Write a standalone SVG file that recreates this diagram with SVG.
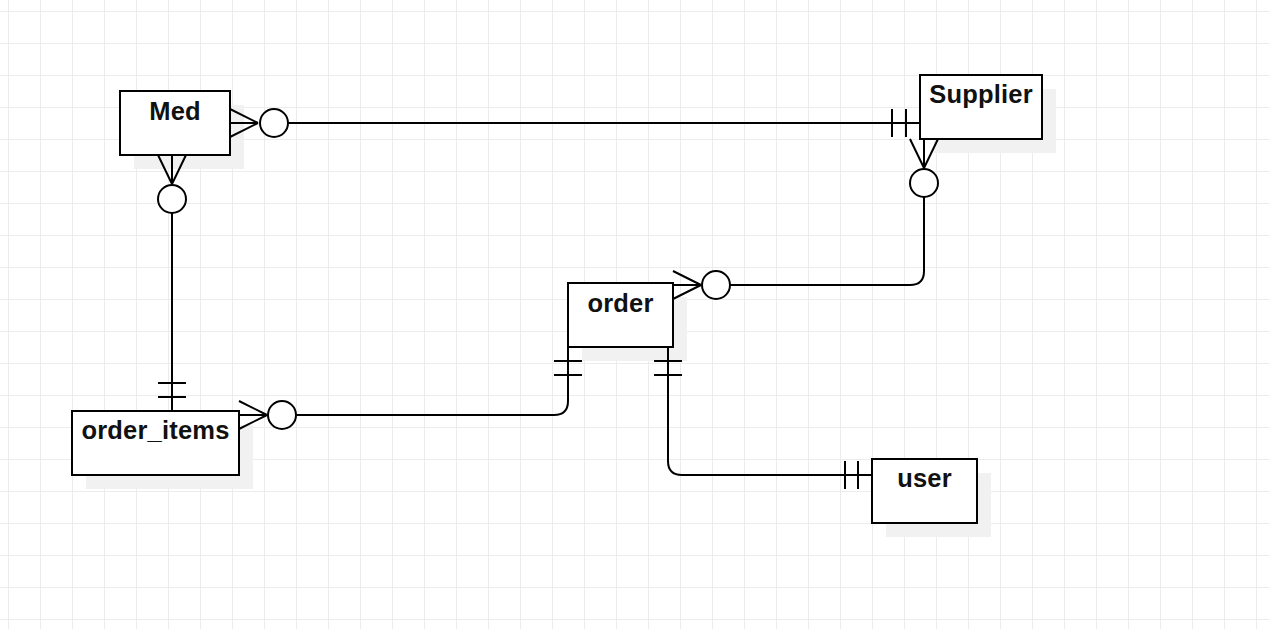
<svg xmlns="http://www.w3.org/2000/svg" width="1269" height="629" viewBox="0 0 1269 629">
<defs>
<pattern id="grid" patternUnits="userSpaceOnUse" x="8" y="11" width="32" height="32">
<path d="M0.5 0V32M0 0.5H32" fill="none" stroke="#ececec" stroke-width="1"/>
</pattern>
<style>
.shadow{fill:#f1f1f1;stroke:none}
.box{fill:#ffffff;stroke:#000000;stroke-width:2}
.lbl{font-family:"Liberation Sans",Arial,sans-serif;font-weight:bold;font-size:25.5px;letter-spacing:0.2px;fill:#111111;text-anchor:middle}
.ln{fill:none;stroke:#000000;stroke-width:2}
.circ{fill:#ffffff;stroke:#000000;stroke-width:2}
</style>
</defs>
<rect x="0" y="0" width="1269" height="629" fill="#ffffff"/>
<rect x="0" y="0" width="1269" height="629" fill="url(#grid)"/>

<g id="med">
<rect class="shadow" x="134" y="105" width="110" height="64"/>
<rect class="box" x="120" y="91" width="110" height="64"/>
<text class="lbl" x="175" y="120">Med</text>
</g>
<g id="supplier">
<rect class="shadow" x="934" y="89" width="122" height="64"/>
<rect class="box" x="920" y="75" width="122" height="64"/>
<text class="lbl" x="981" y="103">Supplier</text>
</g>
<g id="order">
<rect class="shadow" x="582" y="297" width="105" height="64"/>
<rect class="box" x="568" y="283" width="105" height="64"/>
<text class="lbl" x="620.5" y="312">order</text>
</g>
<g id="order_items">
<rect class="shadow" x="86" y="425" width="167" height="64"/>
<rect class="box" x="72" y="411" width="167" height="64"/>
<text class="lbl" x="155.5" y="439">order_items</text>
</g>
<g id="user">
<rect class="shadow" x="886" y="473" width="105" height="64"/>
<rect class="box" x="872" y="459" width="105" height="64"/>
<text class="lbl" x="924.5" y="487">user</text>
</g>

<g id="connectors">
<!-- Med - Supplier -->
<path class="ln" d="M230 109L258 123M230 123H258M230 137L258 123"/>
<circle class="circ" cx="274" cy="123" r="14"/>
<path class="ln" d="M288 123H920M892 109V137M906 109V137"/>
<!-- Med - order_items -->
<path class="ln" d="M158 155L172 184M172 155V184M186 155L172 184"/>
<circle class="circ" cx="172" cy="199" r="14"/>
<path class="ln" d="M172 213V411M158 383H186M158 397H186"/>
<!-- order_items - order -->
<path class="ln" d="M239 401L267 415M239 415H267M239 429L267 415"/>
<circle class="circ" cx="282" cy="415" r="14"/>
<path class="ln" d="M296 415H554Q568 415 568 401V347M554 361H582M554 375H582"/>
<!-- order - Supplier -->
<path class="ln" d="M673 271L701 285M673 285H701M673 299L701 285"/>
<circle class="circ" cx="716" cy="285" r="14"/>
<path class="ln" d="M730 285H910Q924 285 924 271V197"/>
<path class="ln" d="M910 139L924 168M924 139V168M938 139L924 168"/>
<circle class="circ" cx="924" cy="183" r="14"/>
<!-- order - user -->
<path class="ln" d="M668 347V461Q668 475 682 475H872M654 361H682M654 375H682M845 461V489M858 461V489"/>
</g>
</svg>
